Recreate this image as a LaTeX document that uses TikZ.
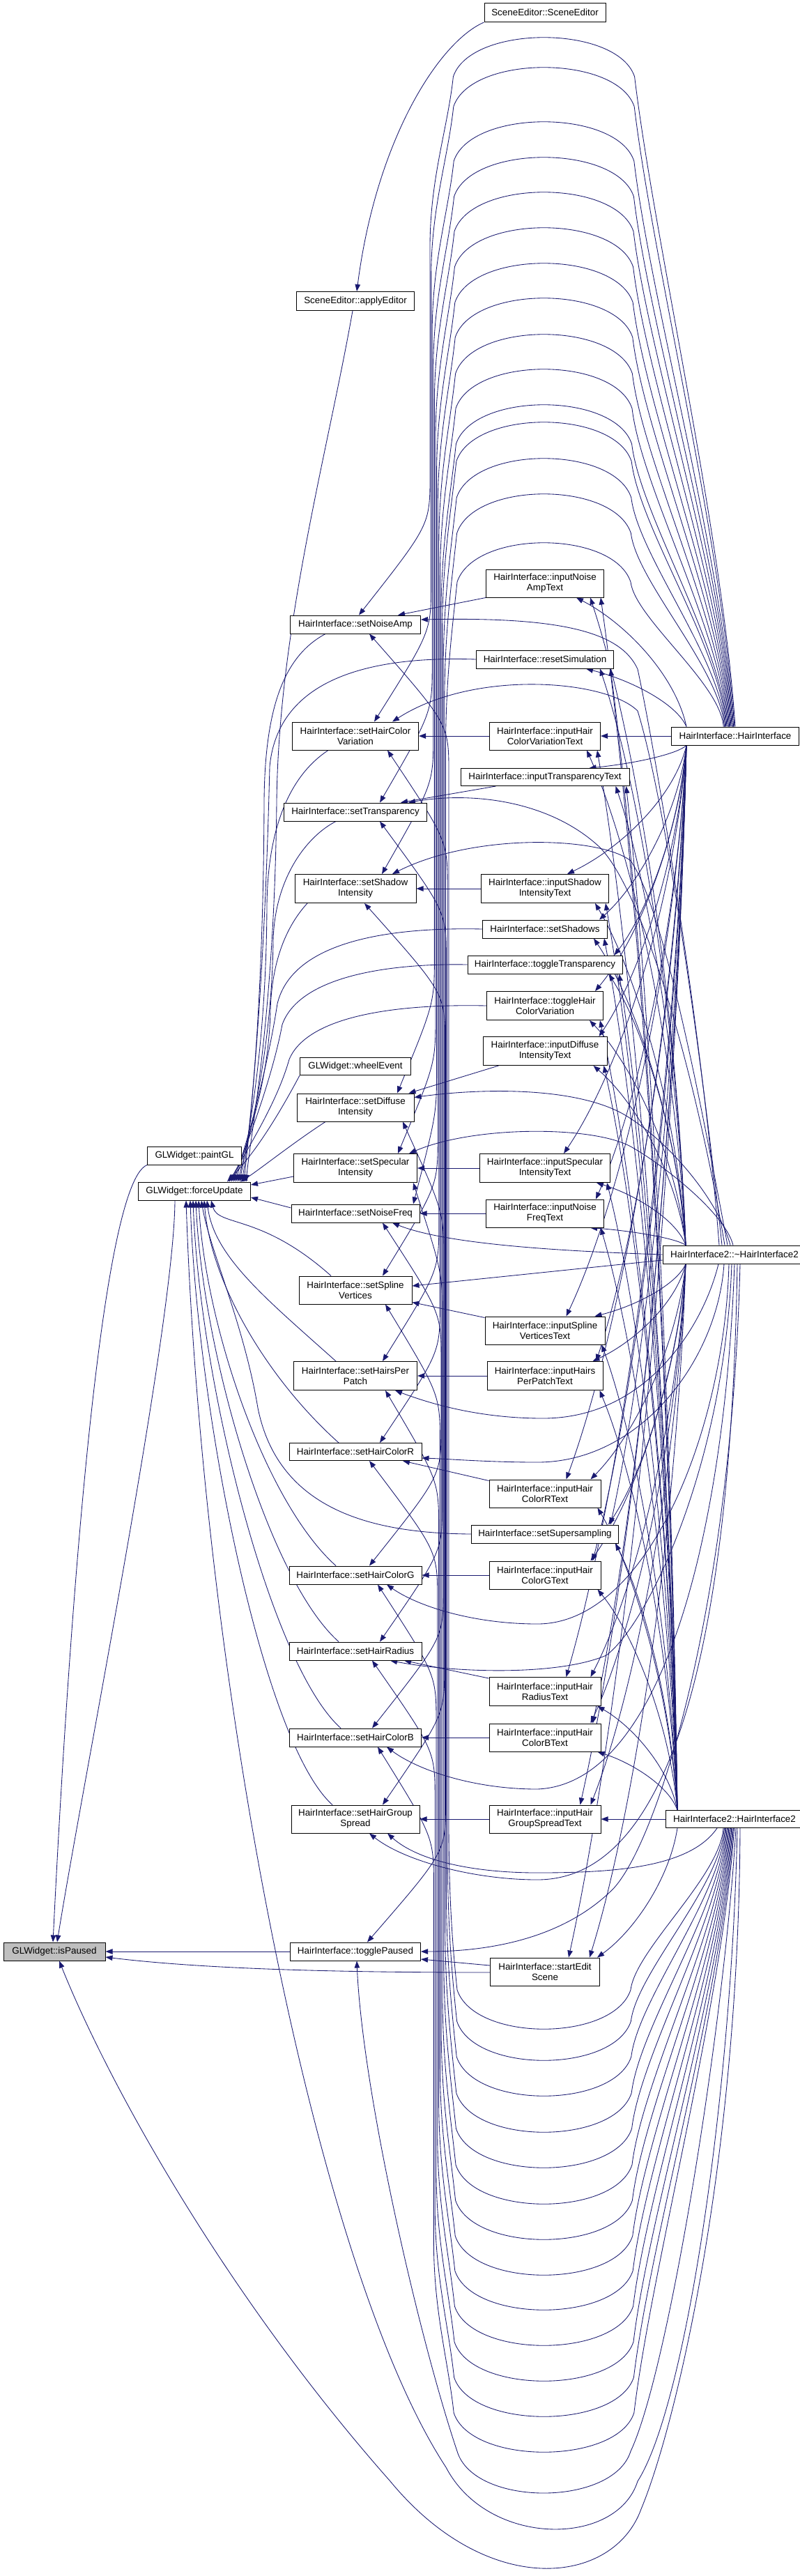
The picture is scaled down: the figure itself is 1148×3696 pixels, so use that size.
\documentclass[tikz,border=0pt]{standalone}
\usepackage{fontspec}
\setmainfont{Liberation Sans}
\usetikzlibrary{arrows.meta,calc}
\pgfdeclarelayer{background}
\pgfsetlayers{background,main}
\definecolor{edgec}{HTML}{191970}
\definecolor{hilite}{HTML}{BFBFBF}
\begin{document}
\begin{tikzpicture}[x=1pt,y=-1pt,
  fn/.style={draw=black,line width=1pt,fill=white,inner sep=0pt,align=center,
    font=\fontsize{13.4}{15}\selectfont},
  e/.style={draw=edgec,line width=0.85pt,-{Triangle[length=10pt,width=7.5pt]}},
]
\useasboundingbox (0,0) rectangle (1148,3696);
% ---------------- nodes ----------------
\node[fn,fill=hilite,minimum width=146pt,minimum height=26pt] (ip) at (78,2800) {GLWidget::isPaused};
\node[fn,minimum width=135pt,minimum height=26pt] (pgl) at (279,1658) {GLWidget::paintGL};
\node[fn,minimum width=161pt,minimum height=26pt] (fu) at (279,1709) {GLWidget::forceUpdate};
\node[fn,minimum width=169pt,minimum height=27pt] (ae) at (510,432) {SceneEditor::applyEditor};
\node[fn,minimum width=187pt,minimum height=26pt] (nam) at (510,896) {HairInterface::setNoiseAmp};
\node[fn,minimum width=181pt,minimum height=40pt] (hcv) at (510,1056) {HairInterface::setHairColor\\Variation};
\node[fn,minimum width=205pt,minimum height=26pt] (tra) at (510,1165) {HairInterface::setTransparency};
\node[fn,minimum width=174pt,minimum height=41pt] (shi) at (510,1275) {HairInterface::setShadow\\Intensity};
\node[fn,minimum width=159pt,minimum height=25pt] (whe) at (510,1530) {GLWidget::wheelEvent};
\node[fn,minimum width=168pt,minimum height=40pt] (dif) at (510,1589) {HairInterface::setDiffuse\\Intensity};
\node[fn,minimum width=177pt,minimum height=41pt] (spe) at (510,1676) {HairInterface::setSpecular\\Intensity};
\node[fn,minimum width=184pt,minimum height=26pt] (nfq) at (510,1741) {HairInterface::setNoiseFreq};
\node[fn,minimum width=162pt,minimum height=40pt] (spl) at (510,1851) {HairInterface::setSpline\\Vertices};
\node[fn,minimum width=177pt,minimum height=41pt] (hpp) at (510,1974) {HairInterface::setHairsPer\\Patch};
\node[fn,minimum width=190pt,minimum height=25pt] (hcr) at (510,2083) {HairInterface::setHairColorR};
\node[fn,minimum width=190pt,minimum height=26pt] (hcg) at (510,2260) {HairInterface::setHairColorG};
\node[fn,minimum width=190pt,minimum height=26pt] (hra) at (510,2369) {HairInterface::setHairRadius};
\node[fn,minimum width=189pt,minimum height=26pt] (hcb) at (510,2493) {HairInterface::setHairColorB};
\node[fn,minimum width=184pt,minimum height=40pt] (hgs) at (510,2610) {HairInterface::setHairGroup\\Spread};
\node[fn,minimum width=187pt,minimum height=26pt] (tpa) at (510,2800) {HairInterface::togglePaused};
\node[fn,minimum width=174pt,minimum height=27pt] (se) at (782,18) {SceneEditor::SceneEditor};
\node[fn,minimum width=169pt,minimum height=40pt] (nat) at (782,837) {HairInterface::inputNoise\\AmpText};
\node[fn,minimum width=197pt,minimum height=26pt] (rs) at (782,946) {HairInterface::resetSimulation};
\node[fn,minimum width=159pt,minimum height=40pt] (icv) at (782,1056) {HairInterface::inputHair\\ColorVariationText};
\node[fn,minimum width=242pt,minimum height=25pt] (itr) at (782,1115) {HairInterface::inputTransparencyText};
\node[fn,minimum width=183pt,minimum height=41pt] (ish) at (782,1275) {HairInterface::inputShadow\\IntensityText};
\node[fn,minimum width=179pt,minimum height=26pt] (ssh) at (782,1333) {HairInterface::setShadows};
\node[fn,minimum width=222pt,minimum height=26pt] (ttr) at (782,1384) {HairInterface::toggleTransparency};
\node[fn,minimum width=167pt,minimum height=41pt] (thc) at (782,1443) {HairInterface::toggleHair\\ColorVariation};
\node[fn,minimum width=178pt,minimum height=41pt] (idi) at (782,1508) {HairInterface::inputDiffuse\\IntensityText};
\node[fn,minimum width=187pt,minimum height=41pt] (isp) at (782,1676) {HairInterface::inputSpecular\\IntensityText};
\node[fn,minimum width=169pt,minimum height=40pt] (inf) at (782,1741) {HairInterface::inputNoise\\FreqText};
\node[fn,minimum width=172pt,minimum height=40pt] (isv) at (782,1909) {HairInterface::inputSpline\\VerticesText};
\node[fn,minimum width=166pt,minimum height=41pt] (ihp) at (782,1974) {HairInterface::inputHairs\\PerPatchText};
\node[fn,minimum width=160pt,minimum height=40pt] (icr) at (782,2143) {HairInterface::inputHair\\ColorRText};
\node[fn,minimum width=211pt,minimum height=26pt] (ssu) at (782,2201) {HairInterface::setSupersampling};
\node[fn,minimum width=160pt,minimum height=40pt] (icg) at (782,2260) {HairInterface::inputHair\\ColorGText};
\node[fn,minimum width=160pt,minimum height=41pt] (ira) at (782,2427) {HairInterface::inputHair\\RadiusText};
\node[fn,minimum width=160pt,minimum height=40pt] (icb) at (782,2493) {HairInterface::inputHair\\ColorBText};
\node[fn,minimum width=160pt,minimum height=40pt] (igs) at (782,2610) {HairInterface::inputHair\\GroupSpreadText};
\node[fn,minimum width=157pt,minimum height=40pt] (sed) at (782,2829) {HairInterface::startEdit\\Scene};
\node[fn,minimum width=183pt,minimum height=26pt] (hi) at (1055,1056) {HairInterface::HairInterface};
\node[fn,minimum width=206pt,minimum height=26pt] (hd) at (1054,1800) {HairInterface2::\textasciitilde HairInterface2};
\node[fn,minimum width=198pt,minimum height=25pt] (h2) at (1054,2610) {HairInterface2::HairInterface2};

% ---------------- edges ----------------
\begin{pgfonlayer}{background}
\fill[white] (0,0) rectangle (1148,3696);

% SceneEditor / applyEditor
\draw[e] (se.south west) .. controls (630,60) and (540,200) .. ([xshift=2pt]ae.north);
\draw[e] ([xshift=-4pt]ae.south) .. controls (470,650) and (400,900) .. (397,1150) .. controls (394,1450) and (362,1610) .. ([xshift=74pt]fu.north);

% callers of forceUpdate from above
\draw[e] ([xshift=-43pt]nam.south) .. controls (410,940) and (380,1010) .. (379,1150) .. controls (378,1450) and (358,1620) .. ([xshift=71pt]fu.north);
\draw[e] (rs.west) .. controls (560,942) and (400,960) .. (387,1100) .. controls (380,1400) and (360,1620) .. ([xshift=68pt]fu.north);
\draw[e] ([xshift=-39pt]hcv.south) .. controls (420,1110) and (384,1180) .. (383,1300) .. controls (382,1500) and (357,1625) .. ([xshift=65pt]fu.north);
\draw[e] ([xshift=-28pt]tra.south) .. controls (440,1200) and (394,1260) .. (392,1350) .. controls (390,1500) and (360,1625) .. ([xshift=62pt]fu.north);
\draw[e] ([xshift=-69pt]shi.south) .. controls (410,1330) and (390,1380) .. (388,1450) .. controls (386,1550) and (356,1630) .. ([xshift=59pt]fu.north);
\draw[e] (ssh.west) .. controls (560,1330) and (420,1350) .. (398,1440) .. controls (386,1520) and (358,1630) .. ([xshift=56pt]fu.north);
\draw[e] (ttr.west) .. controls (560,1382) and (430,1400) .. (405,1470) .. controls (392,1540) and (358,1635) .. ([xshift=53pt]fu.north);
\draw[e] (thc.west) .. controls (560,1440) and (440,1460) .. (415,1520) .. controls (398,1580) and (360,1640) .. ([xshift=50pt]fu.north);
\draw[e] (whe.south west) .. controls (405,1590) and (370,1650) .. ([xshift=47pt]fu.north);
\draw[e] ([xshift=-43pt]dif.south) .. controls (420,1640) and (370,1680) .. ([xshift=66pt]fu.north);
\draw[e] ([yshift=-12pt]spe.west) -- ([yshift=9pt]fu.east);
\draw[e] ([yshift=8pt]nfq.west) -- ([yshift=-9pt]fu.east);
% callers of forceUpdate from below
\foreach \tn/\sx/\sy/\lx in {spl/475/1831/24, hpp/482/1953.5/18, hcr/486/2070.5/14, hcg/482/2247/6, hra/486/2356/2, hcb/489/2480/-2, hgs/477/2590/-6}{
  \pgfmathsetmacro\ddy{\sy-1722}
  \pgfmathsetmacro\sxo{\sx-510}
  \draw[e] ([xshift=\sxo pt]\tn.north) .. controls (\sx-100,\sy-90) and (279+\lx+10,1722+0.35*\ddy) .. ([xshift=\lx pt]fu.south);
}
\draw[e] (ssu.west) .. controls (540,2200) and (400,2170) .. (370,2020) .. controls (350,1900) and (300,1790) .. ([xshift=10pt]fu.south);

% isPaused callers
\draw[e] (pgl.south west) .. controls (140,1700) and (95,2400) .. ([xshift=-2pt]ip.north);
\draw[e] ([xshift=-28pt]fu.south) .. controls (250,1900) and (120,2550) .. ([xshift=4pt]ip.north);
\draw[e] (tpa.west) -- (ip.east);
\draw[e] ([yshift=9pt]sed.west) -- ([yshift=-11pt]tpa.east);
\draw[e] ([yshift=-1pt]sed.west) .. controls (500,2830) and (300,2826) .. ([yshift=-8pt]ip.east);

% input*Text -> set*
\draw[e] (nat.south west) -- ([xshift=61pt]nam.north);
\draw[e] (icv.west) -- (hcv.east);
\draw[e] ([xshift=51pt]itr.south west) -- ([xshift=65pt]tra.north);
\draw[e] (ish.west) -- (shi.east);
\draw[e] ([xshift=23pt]idi.south west) -- ([xshift=-8pt]dif.north east);
\draw[e] (isp.west) -- (spe.east);
\draw[e] (inf.west) -- (nfq.east);
\draw[e] ([yshift=-2pt]isv.north west) -- ([yshift=3pt]spl.south east);
\draw[e] (ihp.west) -- (hpp.east);
\draw[e] ([yshift=-2pt]icr.north west) -- ([xshift=68pt]hcr.south);
\draw[e] (icg.west) -- (hcg.east);
\draw[e] ([yshift=-2pt]ira.north west) -- ([xshift=70pt]hra.south);
\draw[e] (icb.west) -- (hcb.east);
\draw[e] (igs.west) -- (hgs.east);

% HairInterface::HairInterface -> set* (arcs over the top)
\foreach \tn/\ap/\ty/\dx [count=\kk] in {nam/55/883/5, hcv/98/1036/27, tra/176/1152/35, shi/227/1254.5/38, dif/277/1569/60, spe/328/1655.5/61, nfq/379/1728/83, spl/429/1831/39, hpp/481/1953.5/39, hcr/531/2070.5/35, hcg/582/2247/20, hra/607/2356/35, hcb/659/2480/24, hgs/710/2590/39, tpa/780/2787/17}{
  \pgfmathsetmacro\bx{617+1.6*(\kk-1)}
  \pgfmathsetmacro\hx{-1.2*(\kk-1)}
  \pgfmathsetmacro\rsh{905+0.4*(15-\kk)}
  \pgfmathsetmacro\lsh{656-0.4*(15-\kk)}
  \pgfmathsetmacro\Lg{1043-\ap-55}
  \draw[e] ([xshift=\hx pt]hi.north) .. controls (1055+\hx-0.02*\Lg,1043-0.3*\Lg) and (\rsh+0.03*\Lg,\ap+55+0.25*\Lg) .. (\rsh,\ap+55)
     .. controls (\rsh-25,\ap-20) and (\lsh+25,\ap-20) .. (\lsh,\ap+55)
     .. controls (\lsh-8,\ap+130) and (\bx,\ap+200) .. (\bx,\ap+300) -- (\bx,\ty-200)
     .. controls (\bx,\ty-130) .. ([xshift=\dx pt]\tn.north);
}

% HairInterface2::HairInterface2 -> set* (arcs under the bottom)
\foreach \tn/\nd/\tb/\dx [count=\jj] in {nam/2910/909/20, hcv/2955/1076/46, tra/3006/1178/35, shi/3058/1295.5/13, dif/3109/1609/68, spe/3161/1696.5/83, nfq/3212/1754/39, spl/3263/1871/43, hpp/3313/1994.5/43, hcr/3364/2095.5/20, hcg/3415/2273/32, hra/3466/2382/24, hcb/3517/2506/32}{
  \pgfmathsetmacro\bx{644-1.8*(\jj-1)}
  \pgfmathsetmacro\hx{-16+1.3*(\jj-1)}
  \pgfmathsetmacro\rsh{905+0.4*(\jj-1)}
  \pgfmathsetmacro\lsh{656-0.4*(\jj-1)}
  \pgfmathsetmacro\Lg{\nd-55-2623}
  \draw[e] ([xshift=\hx pt]h2.south) .. controls (1054+\hx-0.02*\Lg,2623+0.3*\Lg) and (\rsh+0.03*\Lg,\nd-55-0.25*\Lg) .. (\rsh,\nd-55)
     .. controls (\rsh-25,\nd+20) and (\lsh+25,\nd+20) .. (\lsh,\nd-55)
     .. controls (\lsh-8,\nd-130) and (\bx,\nd-200) .. (\bx,\nd-300) -- (\bx,\tb+200)
     .. controls (\bx,\tb+130) .. ([xshift=\dx pt]\tn.south);
}
\draw[e] ([xshift=-25pt]h2.south) .. controls (990,2680) and (880,2687) .. (771,2687) .. controls (680,2687) and (600,2670) .. ([xshift=46pt]hgs.south);
\draw[e] ([xshift=2pt]h2.south) .. controls (1040,2900) and (960,3400) .. (905,3517) .. controls (880,3597) and (680,3597) .. (656,3517) .. controls (600,3350) and (520,3000) .. ([xshift=2pt]tpa.south);
\draw[e] ([xshift=4pt]h2.south) .. controls (1050,3000) and (985,3450) .. (915,3560) .. controls (885,3655) and (700,3655) .. (640,3540) .. controls (450,3250) and (290,2400) .. ([xshift=-12pt]fu.south);
\draw[e] ([xshift=8pt]h2.south) .. controls (1060,3100) and (970,3480) .. (920,3600) .. controls (880,3710) and (700,3730) .. (560,3560) .. controls (330,3300) and (160,3000) .. ([xshift=7pt]ip.south);

% HairInterface2::~HairInterface2 -> set*
\draw[e] ([xshift=-22pt]hd.north) .. controls (1010,1500) and (945,1100) .. (915,960) .. controls (890,905) and (800,885) .. ([yshift=7pt]nam.east);
\draw[e] ([xshift=-18pt]hd.north) .. controls (1005,1500) and (955,1150) .. (915,1020) .. controls (870,975) and (680,960) .. ([xshift=53pt]hcv.north);
\draw[e] ([xshift=-14pt]hd.north) .. controls (1000,1550) and (925,1280) .. (860,1215) .. controls (790,1150) and (680,1135) .. ([xshift=76pt]tra.north);
\draw[e] ([xshift=-10pt]hd.north) .. controls (1000,1550) and (950,1300) .. (905,1235) .. controls (860,1200) and (680,1195) .. ([xshift=53pt]shi.north);
\draw[e] ([xshift=-6pt]hd.north) .. controls (1030,1720) and (960,1640) .. (905,1605) .. controls (840,1560) and (700,1560) .. ([yshift=-6pt]dif.north east);
\draw[e] ([xshift=-2pt]hd.north) .. controls (1040,1740) and (950,1670) .. (905,1645) .. controls (850,1615) and (680,1615) .. ([xshift=-12pt]spe.north east);
\draw[e] (hd.west) .. controls (800,1795) and (640,1785) .. ([xshift=53pt]nfq.south);
\draw[e] ([yshift=-8pt]hd.west) -- ([yshift=6pt]spl.east);
\draw[e] ([xshift=-23pt]hd.south) .. controls (1010,1900) and (930,2035) .. (779,2035) .. controls (690,2035) and (620,2015) .. ([xshift=57pt]hpp.south);
\draw[e] ([xshift=-15pt]hd.south) .. controls (1030,1950) and (920,2098) .. (771,2098) .. controls (700,2098) and (640,2093) .. ([yshift=4pt]hcr.south east);
\draw[e] ([xshift=-8pt]hd.south) .. controls (1040,2050) and (930,2330) .. (771,2330) .. controls (680,2330) and (600,2305) .. ([xshift=45pt]hcg.south);
\draw[e] ([xshift=-4pt]hd.south) .. controls (1040,2100) and (930,2330) .. (870,2375) .. controls (800,2405) and (650,2400) .. ([xshift=50pt]hra.south);
\draw[e] (hd.south) .. controls (1040,2200) and (950,2560) .. (771,2567) .. controls (680,2567) and (600,2540) .. ([xshift=45pt]hcb.south);
\draw[e] ([xshift=4pt]hd.south) .. controls (1050,2300) and (980,2697) .. (771,2697) .. controls (680,2697) and (580,2670) .. ([xshift=20pt]hgs.south);
\draw[e] ([xshift=8pt]hd.south) .. controls (1050,2300) and (945,2640) .. (880,2710) .. controls (800,2790) and (680,2800) .. (tpa.east);

% the three constructors/destructor -> column 3 slots
\foreach \cn/\cy/\hh/\re/\rh in {nat/837/20/866.5/50, rs/946/13/880.5/50, icv/1056/20/861.5/50, itr/1115/12.5/903/58, ish/1275/20.5/873.5/60, ssh/1333/13/871.5/12, ttr/1384/13/893/12, thc/1443/20.5/865.5/12, idi/1508/20.5/871/12, isp/1676/20.5/875.5/67, inf/1741/20/866.5/12, isv/1909/20/868/56, ihp/1974/20.5/865/10, icr/2143/20/862/50, ssu/2201/13/887.5/12, icg/2260/20/862/12, ira/2427/20.5/862/50, icb/2493/20/862/12, igs/2610/20/862/30, sed/2829/20/860.5/45}{
  \foreach \sn/\sx/\sy/\shh/\ra/\rb/\ox in {hi/1055/1056/13/\rh/40/70, hd/1054/1800/13/15/20/70, h2/1054/2610/12.5/4/5/82}{
    \pgfmathsetmacro\ddy{\sy-\cy}
    \ifdim\ddy pt>15pt
      \pgfmathsetmacro\ax{\sx-\ox}
      \pgfmathsetmacro\ay{\sy-\shh}
      \pgfmathsetmacro\bxx{\re-\rb}
      \pgfmathsetmacro\byy{\cy+\hh}
      \pgfmathsetmacro\dX{\ax-\bxx}
      \pgfmathsetmacro\dY{\ay-\byy}
      \draw[e] ([xshift=-\ox pt]\sn.north) .. controls (\ax-0.1*\dX,\ay-0.4*\dY) and (\bxx+0.45*\dX,\byy+0.2*\dY) .. ([xshift=-\rb pt]\cn.south east);
    \else
      \ifdim\ddy pt<-15pt
        \pgfmathsetmacro\ax{\sx-\ox}
        \pgfmathsetmacro\ay{\sy+\shh}
        \pgfmathsetmacro\bxx{\re-\ra}
        \pgfmathsetmacro\byy{\cy-\hh}
        \pgfmathsetmacro\dX{\ax-\bxx}
        \pgfmathsetmacro\dY{\ay-\byy}
        \draw[e] ([xshift=-\ox pt]\sn.south) .. controls (\ax-0.1*\dX,\ay-0.4*\dY) and (\bxx+0.45*\dX,\byy+0.2*\dY) .. ([xshift=-\ra pt]\cn.north east);
      \else
        \draw[e] (\sn.west) -- (\cn.east);
      \fi
    \fi
  }
}
\end{pgfonlayer}
\end{tikzpicture}
\end{document}
